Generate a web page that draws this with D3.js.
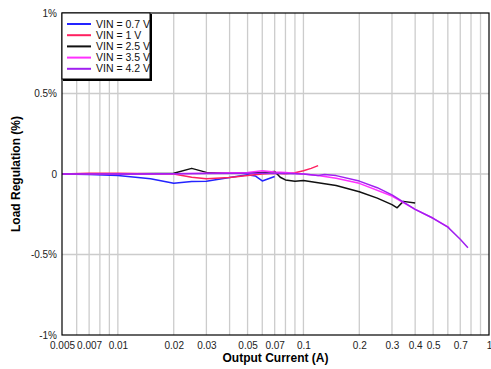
<!DOCTYPE html>
<html>
<head>
<meta charset="utf-8">
<script src="https://cdn.jsdelivr.net/npm/d3@7"></script>
<style>
  body { margin: 0; background: #fff; }
  svg text { font-family: "Liberation Sans", Arial, sans-serif; }
</style>
</head>
<body>
<div id="chart"></div>
<script>
// Output current (A) and load regulation (%) per input voltage
const seriesNames = ['VIN = 0.7 V', 'VIN = 1 V', 'VIN = 2.5 V', 'VIN = 3.5 V', 'VIN = 4.2 V'];
const seriesColors = ['#2424ff', '#ff2060', '#111111', '#ff30ff', '#a020f0'];

const vin07I = [0.005, 0.007, 0.01, 0.015, 0.02, 0.025, 0.03, 0.04, 0.05, 0.055, 0.06, 0.07];
const vin07V = [0, -0.003, -0.01, -0.03, -0.058, -0.046, -0.045, -0.022, -0.004, -0.012, -0.043, -0.016];

const vin1I = [0.005, 0.007, 0.01, 0.02, 0.025, 0.03, 0.04, 0.05, 0.06, 0.07, 0.08, 0.09, 0.1, 0.11, 0.12];
const vin1V = [0, 0.005, 0.005, 0, -0.02, -0.03, -0.022, -0.01, 0, 0.004, 0.002, 0.008, 0.02, 0.035, 0.052];

const vin25I = [0.005, 0.01, 0.02, 0.025, 0.03, 0.04, 0.05, 0.06, 0.07, 0.075, 0.08, 0.09, 0.1, 0.12, 0.15, 0.2, 0.25, 0.3, 0.32, 0.345, 0.4];
const vin25V = [0, 0, 0.005, 0.035, 0.01, 0.005, 0.005, 0.01, 0.015, -0.02, -0.037, -0.045, -0.04, -0.055, -0.072, -0.11, -0.15, -0.19, -0.21, -0.17, -0.18];

const vin35I = [0.005, 0.01, 0.02, 0.03, 0.05, 0.06, 0.07, 0.08, 0.1, 0.12, 0.15, 0.2, 0.3, 0.4, 0.5, 0.61];
const vin35V = [0, 0, 0.002, 0.005, 0.01, 0.02, 0.012, 0.01, 0, -0.01, -0.027, -0.058, -0.137, -0.22, -0.275, -0.333];

const vin42I = [0.005, 0.01, 0.02, 0.03, 0.05, 0.06, 0.08, 0.1, 0.12, 0.13, 0.15, 0.2, 0.25, 0.3, 0.4, 0.5, 0.6, 0.7, 0.77];
const vin42V = [0, 0, 0.002, 0.003, 0.004, 0.005, 0.003, 0, -0.01, -0.003, -0.01, -0.044, -0.085, -0.13, -0.22, -0.275, -0.33, -0.405, -0.458];

const xTickLabels = [0.005, 0.007, 0.01, 0.02, 0.03, 0.05, 0.07, 0.1, 0.2, 0.3, 0.4, 0.5, 0.7, 1];
const xGridValues = [0.006, 0.007, 0.008, 0.009, 0.01, 0.02, 0.03, 0.04, 0.05, 0.06, 0.07, 0.08, 0.09,
  0.1, 0.2, 0.3, 0.4, 0.5, 0.6, 0.7, 0.8, 0.9];
const yTicks = [-1, -0.5, 0, 0.5, 1];
const yTickLabels = ['-1%', '-0.5%', '0', '0.5%', '1%'];

const seriesI = [vin07I, vin1I, vin25I, vin35I, vin42I];
const seriesV = [vin07V, vin1V, vin25V, vin35V, vin42V];

const W = 491, H = 369;
const margin = { top: 13, right: 2, bottom: 34, left: 62 };
const width = W - margin.left - margin.right;
const height = H - margin.top - margin.bottom;

const svg = d3.select('#chart').append('svg')
  .attr('width', W)
  .attr('height', H);

const g = svg.append('g')
  .attr('transform', `translate(${margin.left},${margin.top})`);

const x = d3.scaleLog().domain([0.005, 1]).range([0, width]);
const y = d3.scaleLinear().domain([-1, 1]).range([height, 0]);

// grid
g.append('g')
  .selectAll('line')
  .data(xGridValues)
  .enter().append('line')
  .attr('x1', d => x(d)).attr('x2', d => x(d))
  .attr('y1', 0).attr('y2', height)
  .attr('stroke', '#cccccc')
  .attr('stroke-width', 1.3);

g.append('g')
  .selectAll('line')
  .data([-0.5, 0, 0.5])
  .enter().append('line')
  .attr('x1', 0).attr('x2', width)
  .attr('y1', d => y(d)).attr('y2', d => y(d))
  .attr('stroke', '#cccccc')
  .attr('stroke-width', 1.3);

// axes
const xAxis = g.append('g')
  .attr('transform', `translate(0,${height})`)
  .call(d3.axisBottom(x).tickValues(xTickLabels).tickSize(0).tickPadding(7).tickFormat(d => String(d)));
xAxis.select('.domain').remove();
xAxis.selectAll('text').attr('font-size', 10).attr('fill', '#222');

const yAxis = g.append('g')
  .call(d3.axisLeft(y).tickValues(yTicks).tickSize(0).tickPadding(5)
    .tickFormat((d, i) => yTickLabels[i]));
yAxis.select('.domain').remove();
yAxis.selectAll('text').attr('font-size', 10).attr('fill', '#222');

// lines
const line = d3.line()
  .x(d => x(d[0]))
  .y(d => y(d[1]));

seriesI.forEach((xs, k) => {
  g.append('path')
    .datum(xs.map((v, i) => [v, seriesV[k][i]]))
    .attr('fill', 'none')
    .attr('stroke', seriesColors[k])
    .attr('stroke-width', 1.5)
    .attr('stroke-linejoin', 'round')
    .attr('d', line);
});

// frame
g.append('rect')
  .attr('width', width).attr('height', height)
  .attr('fill', 'none')
  .attr('stroke', '#000')
  .attr('stroke-width', 1.2);

// legend
const legend = g.append('g');
legend.append('rect')
  .attr('x', 1).attr('y', 1).attr('width', 89).attr('height', 67)
  .attr('fill', '#000');
legend.append('rect')
  .attr('x', 0).attr('y', 0).attr('width', 88).attr('height', 66)
  .attr('fill', '#fff')
  .attr('stroke', '#000')
  .attr('stroke-width', 1);

seriesNames.forEach((name, i) => {
  const ly = 11 + i * 11.2;
  legend.append('line')
    .attr('x1', 5).attr('x2', 29)
    .attr('y1', ly).attr('y2', ly)
    .attr('stroke', seriesColors[i])
    .attr('stroke-width', 2);
  legend.append('text')
    .attr('x', 34).attr('y', ly)
    .attr('dy', '0.35em')
    .attr('font-size', 10.5)
    .attr('fill', '#111')
    .text(name);
});

// titles
svg.append('text')
  .attr('x', margin.left + width / 2)
  .attr('y', 362)
  .attr('text-anchor', 'middle')
  .attr('font-size', 12)
  .attr('font-weight', 'bold')
  .text('Output Current (A)');

svg.append('text')
  .attr('transform', `translate(20,${margin.top + height / 2}) rotate(-90)`)
  .attr('text-anchor', 'middle')
  .attr('font-size', 12)
  .attr('font-weight', 'bold')
  .text('Load Regulation (%)');
</script>
</body>
</html>
